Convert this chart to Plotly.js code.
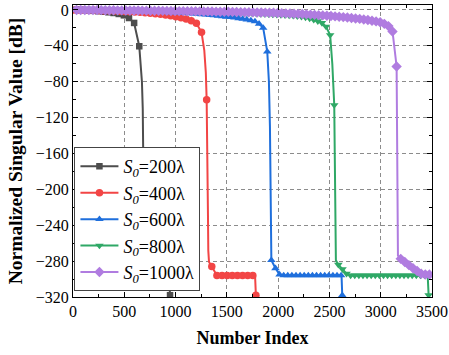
<!DOCTYPE html>
<html><head><meta charset="utf-8">
<script src="https://cdn.plot.ly/plotly-3.0.1.min.js"></script>
<style>body{margin:0;background:#fff}#c{width:449px;height:355px}</style>
</head><body><div id="c"></div>
<script>
// ---- Data ----
const seriesNames = ['<i>S</i><sub><i>0</i></sub>=200λ','<i>S</i><sub><i>0</i></sub>=400λ','<i>S</i><sub><i>0</i></sub>=600λ','<i>S</i><sub><i>0</i></sub>=800λ','<i>S</i><sub><i>0</i></sub>=1000λ'];

// S0 = 200λ  (markers / extra line points)
const s200MarkX = [46,96,146,196,246,296,346,396,446,496,546,596,646, 696,746,796,846,896, 946];
const s200MarkY = [0,-0.3,-0.6,-1,-1.4,-2,-2.6,-3.4,-4.5,-6,-9,-14.5,-40.5, -289,-296,-296,-296,-296, -318];
const s200LineX = [0,660,672,680,685,687,690,936];
const s200LineY = [0,-60,-80,-110,-160,-250,-280,-296];

// S0 = 400λ
const s400MarkX = [3,53,103,153,203,253,303,353,403,453,503,553,603,653,703,753,803,853,903,953,1003,1053,1103,1153,1203,1253,1303, 1353,1403,1453,1503,1553,1603,1653,1703,1753, 1783];
const s400MarkY = [0,-0.1,-0.2,-0.3,-0.45,-0.6,-0.8,-1.0,-1.2,-1.45,-1.7,-2.0,-2.3,-2.7,-3.1,-3.6,-4.2,-4.9,-5.7,-6.6,-7.6,-8.8,-10.2,-12,-14.8,-25,-100, -286,-296,-296,-296,-296,-296,-296,-296,-296, -318];
const s400LineX = [0,1280,1295,1312,1316,1319,1326,1775];
const s400LineY = [0,-45,-70,-160,-230,-268,-281,-296];

// S0 = 600λ
const s600MarkX = [14,54,94,134,174,214,254,294,334,374,414,454,494,534,574,614,654,694,734,774,814,854,894,934,974,1014,1054,1094,1134,1174,1214,1254,1294,1334,1374,1414,1454,1494,1534,1574,1614,1654,1694,1734,1774,1814,1854,1894, 1934,1974,2014,2054,2094,2134,2174,2214,2254,2294,2334,2374,2414,2454,2494,2534,2574,2614, 2625];
const s600MarkY = [0,-0.05,-0.1,-0.15,-0.2,-0.25,-0.3,-0.4,-0.5,-0.6,-0.7,-0.8,-0.9,-1.0,-1.1,-1.2,-1.35,-1.5,-1.65,-1.8,-2.0,-2.2,-2.4,-2.6,-2.8,-3.0,-3.3,-3.6,-3.9,-4.2,-4.5,-4.9,-5.3,-5.7,-6.1,-6.6,-7.1,-7.6,-8.1,-8.7,-9.3,-10,-10.8,-11.7,-12.8,-15.5,-20,-46.5, -279,-288,-295,-296,-296,-296,-296,-296,-296,-296,-296,-296,-296,-296,-296,-296,-296,-296, -318];
const s600LineX = [0,1910,1920,1925,1927,1930,2618];
const s600LineY = [0,-80,-130,-200,-260,-274,-296];

// S0 = 800λ
const s800MarkX = [27,67,107,147,187,227,267,307,347,387,427,467,507,547,587,627,667,707,747,787,827,867,907,947,987,1027,1067,1107,1147,1187,1227,1267,1307,1347,1387,1427,1467,1507,1547,1587,1627,1667,1707,1747,1787,1827,1867,1907,1947,1987,2027,2067,2107,2147,2187,2227,2267,2307,2347,2387,2427,2467,2507,2547, 2587,2627,2667,2707,2747,2787,2827,2867,2907,2947,2987,3027,3067,3107,3147,3187,3227,3267,3307,3347,3387,3427, 3467];
const s800MarkY = [0,-0.05,-0.1,-0.15,-0.2,-0.25,-0.3,-0.35,-0.4,-0.45,-0.5,-0.55,-0.6,-0.65,-0.7,-0.75,-0.8,-0.85,-0.9,-0.95,-1.0,-1.1,-1.2,-1.3,-1.4,-1.5,-1.6,-1.7,-1.8,-1.9,-2.0,-2.1,-2.2,-2.3,-2.4,-2.5,-2.6,-2.8,-3.0,-3.2,-3.4,-3.6,-3.8,-4.0,-4.2,-4.4,-4.6,-4.8,-5.0,-5.3,-5.6,-5.9,-6.2,-6.6,-7.0,-7.6,-8.4,-9.5,-11,-12.5,-14.5,-18.5,-28,-106, -284,-289,-294,-296,-296,-296,-296,-296,-296,-296,-296,-296,-296,-296,-296,-296,-296,-296,-296,-296,-296,-296, -318];
const s800LineX = [0,2528,2552,2555,2557,2563,3458];
const s800LineY = [0,-60,-160,-230,-268,-279,-296];

// S0 = 1000λ
const s1000MarkX = [35,75,115,155,195,235,275,315,355,395,435,475,515,555,595,635,675,715,755,795,835,875,915,955,995,1035,1075,1115,1155,1195,1235,1275,1315,1355,1395,1435,1475,1515,1555,1595,1635,1675,1715,1755,1795,1835,1875,1915,1955,1995,2035,2075,2115,2155,2195,2235,2275,2315,2355,2395,2435,2475,2515,2555,2595,2635,2675,2715,2755,2795,2835,2875,2915,2955,2995,3035,3075,3115,3155, 3195,3235,3275,3315,3355,3395,3435,3475];
const s1000MarkY = [0,0,-0.05,-0.1,-0.15,-0.2,-0.25,-0.3,-0.35,-0.4,-0.45,-0.5,-0.55,-0.6,-0.65,-0.7,-0.75,-0.8,-0.85,-0.9,-0.95,-1.0,-1.1,-1.15,-1.2,-1.3,-1.35,-1.4,-1.5,-1.55,-1.6,-1.7,-1.75,-1.8,-1.9,-1.95,-2.0,-2.1,-2.2,-2.3,-2.4,-2.5,-2.6,-2.7,-2.8,-2.9,-3.0,-3.1,-3.2,-3.4,-3.6,-3.8,-4.0,-4.2,-4.4,-4.6,-4.9,-5.2,-5.5,-5.8,-6.1,-6.4,-6.8,-7.2,-7.6,-8.0,-8.5,-9.0,-9.5,-10,-10.6,-11.3,-12,-12.8,-13.8,-15.5,-18,-24,-63, -277.5,-281,-284.5,-288,-291,-294,-295,-295];
const s1000LineX = [0,3161,3164,3166,3168,3500];
const s1000LineY = [0,-130,-200,-255,-274,-295];

const xTickVals = [0,500,1000,1500,2000,2500,3000,3500];
const yTickVals = [0,-40,-80,-120,-160,-200,-240,-280,-320];

// ---- Styles ----
const colors = ['#4d4d4d','#f24545','#1f6fdc','#2fa866','#b07ce0'];
const symbols = ['square','circle','triangle-up','triangle-down','diamond'];
const msizes = [6.5,7.5,7.5,7.5,8];
const FONT = '"Liberation Serif", "Times New Roman", serif';

const series = [
  [s200MarkX,s200MarkY,s200LineX,s200LineY],
  [s400MarkX,s400MarkY,s400LineX,s400LineY],
  [s600MarkX,s600MarkY,s600LineX,s600LineY],
  [s800MarkX,s800MarkY,s800LineX,s800LineY],
  [s1000MarkX,s1000MarkY,s1000LineX,s1000LineY]
];

function mergeSorted(ax, ay, bx, by){
  const pts = ax.map((x,i)=>[x,ay[i]]).concat(bx.map((x,i)=>[x,by[i]]));
  pts.sort((p,q)=>p[0]-q[0]);
  return [pts.map(p=>p[0]), pts.map(p=>p[1])];
}

const traces = [];
series.forEach((s,i)=>{
  const [lx,ly] = mergeSorted(s[0],s[1],s[2],s[3]);
  traces.push({x:lx,y:ly,type:'scatter',mode:'lines',line:{color:colors[i],width:2},showlegend:false,hoverinfo:'skip'});
  traces.push({x:s[0],y:s[1],type:'scatter',mode:'markers',marker:{color:colors[i],symbol:symbols[i],size:msizes[i],line:{width:0}},showlegend:false,hoverinfo:'skip'});
});
series.forEach((s,i)=>{
  traces.push({x:[null],y:[null],type:'scatter',mode:'lines+markers',name:seriesNames[i],
    line:{color:colors[i],width:2},marker:{color:colors[i],symbol:symbols[i],size:msizes[i],line:{width:0}}});
});

const axisCommon = {
  showline:true, linecolor:'#000', linewidth:1, mirror:'allticks',
  ticks:'inside', ticklen:5, tickwidth:1, tickcolor:'#000',
  showgrid:true, gridcolor:'#8c8c8c', gridwidth:1, griddash:'4px,3px',
  zeroline:false, tickfont:{family:FONT,size:16,color:'#000'}
};

const layout = {
  width:449, height:355,
  margin:{l:73,r:17,t:5,b:58},
  paper_bgcolor:'#fff', plot_bgcolor:'#fff',
  xaxis:Object.assign({}, axisCommon, {
    range:[0,3500], tickvals:xTickVals, ticktext:xTickVals.map(String),
    minor:{dtick:250, tick0:0, ticks:'inside', ticklen:3, tickcolor:'#000', showgrid:false},
    title:{text:'<b>Number Index</b>', font:{family:FONT,size:18,color:'#000'}, standoff:12}
  }),
  yaxis:Object.assign({}, axisCommon, {
    range:[-320,5.5], tickvals:yTickVals,
    minor:{dtick:20, tick0:0, ticks:'inside', ticklen:3, tickcolor:'#000', showgrid:false},
    title:{text:'<b>Normalized Singular Value [dB]</b>', font:{family:FONT,size:19.5,color:'#000'}, standoff:7}
  }),
  legend:{x:0.004,y:0.02,xanchor:'left',yanchor:'bottom',bgcolor:'#fff',bordercolor:'#444',borderwidth:1,
    font:{family:FONT,size:18,color:'#000'}, itemwidth:38, tracegroupgap:0},
  showlegend:true
};

Plotly.newPlot('c', traces, layout, {displayModeBar:false, staticPlot:true});
</script>
</body></html>
